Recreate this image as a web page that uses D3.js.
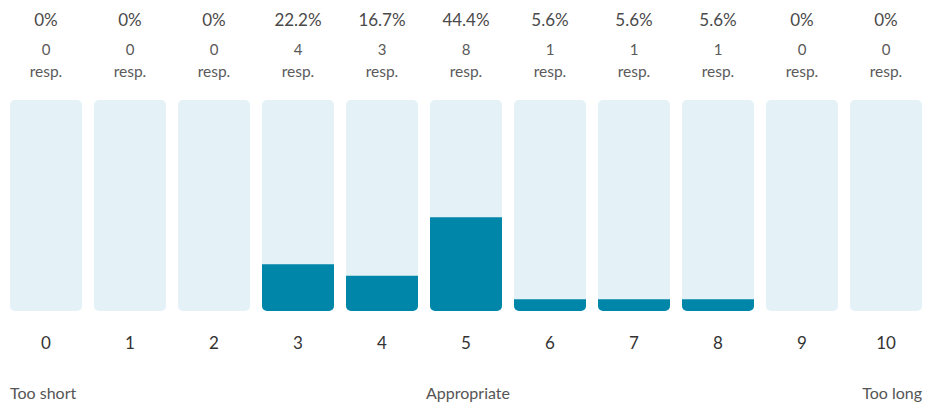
<!DOCTYPE html>
<html>
<head>
<meta charset="utf-8">
<script src="https://cdn.jsdelivr.net/npm/d3@7/dist/d3.min.js"></script>
<style>
  body { margin: 0; background: #fff; }
  text { font-family: Lato, "Open Sans", sans-serif; }
</style>
</head>
<body>
<div id="chart"></div>
<script>
var figw = 926
var figh = 408

// scores and responses
var scores = ["0", "1", "2", "3", "4", "5", "6", "7", "8", "9", "10"]
var pcts = ["0%", "0%", "0%", "22.2%", "16.7%", "44.4%", "5.6%", "5.6%", "5.6%", "0%", "0%"]
var pctVals = [0, 0, 0, 22.2, 16.7, 44.4, 5.6, 5.6, 5.6, 0, 0]
var resps = [0, 0, 0, 4, 3, 8, 1, 1, 1, 0, 0]
var endLabels = ["Too short", "Appropriate", "Too long"]

var svg = d3.select("#chart")
  .append("svg")
    .attr("width", figw)
    .attr("height", figh)

var x = d3.scaleBand()
  .domain(scores)
  .range([10, 922])
  .paddingInner(12 / 84)
  .paddingOuter(0)

var y = d3.scaleLinear()
  .domain([0, 100])
  .range([311, 100])

var rows = scores.map(function(s, i) {
  return {s: s, pct: pcts[i], v: pctVals[i], n: resps[i]}
})

// background tracks
svg.append("g")
  .selectAll("rect")
  .data(rows)
  .enter()
  .append("rect")
    .attr("x", function(d) { return x(d.s) })
    .attr("y", y(100))
    .attr("width", x.bandwidth())
    .attr("height", y(0) - y(100))
    .attr("rx", 5)
    .style("fill", "#e4f1f7")

// filled bars (rounded at bottom only, via clip of a taller rounded rect)
var bars = svg.append("g")
rows.filter(function(d) { return d.v > 0 }).forEach(function(d, i) {
  var id = "clip" + d.s
  svg.append("clipPath").attr("id", id)
    .append("rect")
      .attr("x", x(d.s))
      .attr("y", y(d.v))
      .attr("width", x.bandwidth())
      .attr("height", y(0) - y(d.v))
  bars.append("rect")
    .attr("clip-path", "url(#" + id + ")")
    .attr("x", x(d.s))
    .attr("y", y(d.v) - 10)
    .attr("width", x.bandwidth())
    .attr("height", y(0) - y(d.v) + 10)
    .attr("rx", 5)
    .style("fill", "#0086a9")
})

var cx = function(d) { return x(d.s) + x.bandwidth() / 2 }

var heads = svg.append("g").attr("text-anchor", "middle")
heads.selectAll(".pct").data(rows).enter().append("text")
  .attr("x", cx).attr("y", 26)
  .attr("font-size", 17)
  .style("fill", "#4a4a4a")
  .text(function(d) { return d.pct })
heads.selectAll(".n").data(rows).enter().append("text")
  .attr("x", cx).attr("y", 55)
  .attr("font-size", 15)
  .style("fill", "#5a5a5a")
  .text(function(d) { return d.n })
heads.selectAll(".r").data(rows).enter().append("text")
  .attr("x", cx).attr("y", 77)
  .attr("font-size", 15.5)
  .style("fill", "#5a5a5a")
  .text("resp.")

// score axis
var ax = svg.append("g")
  .attr("transform", "translate(0,337)")
  .call(d3.axisBottom(x).tickSize(0).tickPadding(0))
ax.select(".domain").remove()
ax.selectAll("text")
  .attr("dy", "0.71em")
  .attr("font-size", 17)
  .attr("font-family", "Lato, sans-serif")
  .style("fill", "#333")

// end labels
svg.append("text").attr("x", 10).attr("y", 399)
  .attr("font-size", 16).style("fill", "#555")
  .text(endLabels[0])
svg.append("text").attr("x", x("5") + x.bandwidth() / 2 + 2).attr("y", 399)
  .attr("text-anchor", "middle")
  .attr("font-size", 16).style("fill", "#555")
  .text(endLabels[1])
svg.append("text").attr("x", 922).attr("y", 399)
  .attr("text-anchor", "end")
  .attr("font-size", 16).style("fill", "#555")
  .text(endLabels[2])
</script>
</body>
</html>
